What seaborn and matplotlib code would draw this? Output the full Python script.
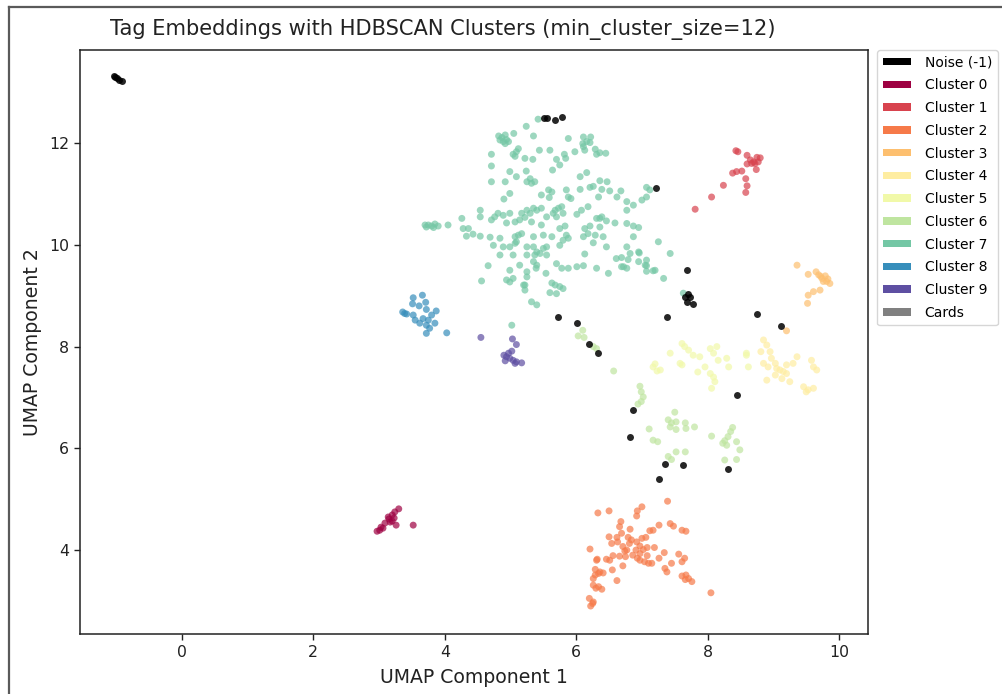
import numpy as np
import pandas as pd
import matplotlib
matplotlib.use("Agg")
import matplotlib.pyplot as plt
from matplotlib.lines import Line2D
from matplotlib.patches import Patch
import seaborn as sns

# ---- UMAP coordinates per HDBSCAN label ----
noise_x = [-1.04, -1.01, -0.98, -0.95, -0.91, 5.51, 5.56, 5.68, 5.78, 7.21, 7.69,
           7.66, 7.70, 7.73, 7.69, 7.78, 7.38, 8.75, 9.11, 5.73, 6.01, 6.20, 6.33,
           8.44, 6.86, 6.82, 7.35, 7.62, 8.31, 7.26]
noise_y = [13.32, 13.30, 13.28, 13.25, 13.22, 12.49, 12.49, 12.45, 12.51, 11.11, 9.50,
           8.98, 9.03, 8.97, 8.87, 8.84, 8.59, 8.64, 8.40, 8.59, 8.46, 8.06, 7.88,
           7.05, 6.75, 6.22, 5.69, 5.68, 5.60, 5.39]

c0_x = [2.97, 3.03, 3.09, 3.15, 3.20, 3.24, 3.30, 3.14, 3.20, 3.26, 3.01, 3.06, 3.17, 3.23, 3.52]
c0_y = [4.37, 4.45, 4.53, 4.61, 4.69, 4.75, 4.81, 4.65, 4.57, 4.49, 4.39, 4.43, 4.55, 4.63, 4.49]

c1_x = [8.43, 8.46, 8.60, 8.65, 8.70, 8.75, 8.80, 8.77, 8.60, 8.67, 8.72, 8.74, 8.52,
        8.44, 8.38, 8.58, 8.60, 8.58, 8.24, 8.06, 7.81]
c1_y = [11.85, 11.83, 11.76, 11.67, 11.63, 11.72, 11.71, 11.63, 11.59, 11.60, 11.60, 11.48,
        11.45, 11.44, 11.41, 11.30, 11.16, 11.03, 11.17, 10.94, 10.70]

c2_x = [7.39, 6.33, 6.50, 7.00, 6.93, 6.92, 6.68, 6.66, 6.82, 6.69, 6.50, 6.62, 6.63, 6.79,
        7.00, 7.06, 7.12, 7.17, 7.26, 7.43, 7.48, 7.61, 7.67, 6.54, 6.71, 6.81, 6.92, 6.97,
        7.02, 7.08, 6.91, 6.21, 6.74, 6.86, 6.66, 6.56, 6.46, 6.31, 6.75, 6.93, 6.97, 7.08,
        7.19, 7.34, 7.26, 7.56, 7.65, 7.61, 7.45, 7.04, 7.10, 7.15, 6.71, 6.55, 6.41, 6.29,
        6.29, 6.26, 6.34, 7.35, 7.38, 6.62, 7.61, 7.67, 7.71, 7.76, 7.66, 6.26, 6.34, 6.39,
        6.30, 8.05, 6.20, 6.26, 6.22, 6.25, 6.77, 6.97, 6.84, 6.51, 6.36, 6.32]
c2_y = [4.96, 4.73, 4.77, 4.85, 4.77, 4.67, 4.56, 4.46, 4.41, 4.33, 4.26, 4.25, 4.16, 4.25,
        4.23, 4.25, 4.38, 4.39, 4.49, 4.52, 4.47, 4.39, 4.37, 4.13, 4.07, 4.13, 4.16, 4.08,
        4.01, 4.05, 4.00, 4.02, 3.98, 3.90, 3.88, 3.89, 3.82, 3.80, 3.87, 3.84, 3.80, 3.89,
        4.05, 3.95, 3.84, 3.92, 3.84, 3.77, 3.74, 3.77, 3.74, 3.74, 3.69, 3.61, 3.55, 3.62,
        3.51, 3.44, 3.54, 3.64, 3.57, 3.40, 3.49, 3.51, 3.44, 3.38, 3.42, 3.31, 3.28, 3.23,
        3.25, 3.16, 3.05, 2.98, 2.90, 2.95, 4.00, 3.93, 4.20, 3.80, 3.57, 3.82]

c3_x = [9.36, 9.53, 9.65, 9.69, 9.74, 9.79, 9.81, 9.86, 9.76, 9.71, 9.61, 9.53, 9.52, 9.20,
        9.72, 9.83]
c3_y = [9.60, 9.42, 9.47, 9.41, 9.34, 9.39, 9.28, 9.24, 9.28, 9.11, 9.08, 9.01, 8.85, 8.31,
        9.38, 9.33]

c4_x = [8.85, 8.90, 8.95, 8.97, 8.85, 8.92, 9.05, 9.10, 9.15, 9.20, 9.03, 9.13, 8.90, 9.25,
        9.46, 9.53, 9.61, 9.50, 9.58, 9.61, 9.66, 9.30, 9.36, 9.20, 8.81, 9.03]
c4_y = [8.13, 8.03, 7.90, 7.77, 7.67, 7.60, 7.57, 7.54, 7.51, 7.47, 7.44, 7.37, 7.34, 7.31,
        7.21, 7.15, 7.18, 7.11, 7.73, 7.60, 7.54, 7.67, 7.80, 7.64, 7.90, 7.67]

c5_x = [7.61, 7.71, 7.78, 7.88, 8.04, 8.09, 8.16, 7.96, 8.04, 8.11, 8.29, 8.32, 7.58, 7.43,
        8.59, 8.62, 7.28, 7.17, 7.20, 7.23, 8.14, 8.09, 8.06, 7.61, 8.59, 7.85, 7.65]
c5_y = [8.06, 7.93, 7.83, 7.80, 7.96, 7.87, 7.73, 7.60, 7.47, 7.31, 7.77, 7.60, 7.67, 7.87,
        7.87, 7.60, 7.54, 7.60, 7.66, 7.52, 8.00, 7.40, 7.18, 7.64, 7.83, 7.50, 8.00]

c6_x = [6.10, 6.03, 6.12, 6.26, 6.31, 6.57, 6.97, 6.99, 7.02, 6.99, 6.94, 7.50, 7.40, 7.45,
        7.52, 7.66, 7.43, 7.52, 7.67, 7.80, 7.11, 7.17, 7.24, 7.40, 7.45, 7.52, 7.66, 8.06,
        8.38, 8.35, 8.31, 8.26, 8.29, 8.44, 8.49, 8.26, 8.44, 8.23]
c6_y = [8.32, 8.21, 8.18, 8.00, 7.96, 7.52, 7.22, 7.11, 7.01, 6.92, 6.87, 6.71, 6.56, 6.50,
        6.52, 6.50, 6.42, 6.37, 6.39, 6.42, 6.38, 6.16, 6.13, 5.84, 5.78, 5.93, 5.93, 6.24,
        6.41, 6.33, 6.23, 6.15, 6.06, 6.13, 5.97, 5.77, 5.78, 6.10]

c7_x = [5.42, 5.24, 4.82, 4.87, 4.92, 4.94, 4.84, 4.97, 4.92, 4.89, 5.05, 5.35, 5.88, 6.11,
        6.22, 6.16, 6.10, 6.21, 5.12, 5.09, 5.04, 5.07, 5.44, 5.60, 5.82, 5.84, 5.98, 6.11,
        6.13, 6.29, 6.31, 6.36, 6.45, 4.71, 5.22, 5.34, 5.70, 4.71, 4.99, 5.09, 5.24, 5.64,
        5.75, 6.16, 6.06, 4.71, 4.92, 5.25, 5.30, 5.32, 5.37, 5.58, 5.63, 5.85, 6.06, 6.21,
        6.26, 6.36, 6.47, 6.39, 6.51, 6.68, 7.07, 7.12, 4.99, 4.90, 5.47, 5.59, 5.88, 5.92,
        6.34, 6.62, 6.77, 6.87, 7.00, 7.07, 4.54, 4.81, 4.89, 4.99, 5.17, 5.25, 5.35, 5.30,
        5.40, 5.47, 5.68, 5.73, 5.78, 5.65, 5.80, 6.01, 6.08, 6.18, 6.39, 6.77, 3.70, 3.75,
        3.80, 3.85, 3.90, 3.72, 3.83, 4.05, 4.26, 4.54, 4.71, 4.76, 4.94, 5.07, 5.14, 5.22,
        5.32, 5.47, 5.55, 5.70, 5.83, 5.75, 6.13, 6.21, 6.31, 6.36, 6.36, 6.46, 6.59, 6.77,
        6.87, 6.95, 4.28, 4.36, 4.33, 4.43, 4.54, 4.69, 4.84, 5.12, 5.17, 5.07, 5.35, 5.50,
        5.63, 5.85, 5.88, 6.11, 6.18, 6.29, 6.41, 6.87, 7.25, 4.74, 4.89, 4.99, 5.07, 5.09,
        5.25, 5.35, 5.40, 5.50, 5.55, 5.75, 5.80, 6.26, 6.46, 6.77, 6.95, 6.82, 7.43, 4.84,
        5.04, 5.25, 5.37, 5.45, 5.55, 5.70, 6.13, 6.61, 6.69, 6.79, 6.95, 7.07, 5.35, 5.40,
        4.66, 4.99, 5.14, 5.25, 5.39, 5.54, 5.78, 5.88, 6.01, 6.11, 6.31, 6.49, 6.69, 6.77,
        7.07, 7.07, 7.20, 7.33, 4.56, 4.94, 4.99, 5.04, 5.25, 5.22, 5.63, 5.68, 5.75, 5.80,
        5.70, 5.60, 6.96, 7.05, 7.17, 6.72, 7.63, 5.32, 5.40, 5.02, 5.20, 5.22]
c7_y = [12.47, 12.33, 12.14, 12.11, 12.16, 12.07, 12.06, 12.03, 11.99, 12.03, 12.19, 12.14,
        12.09, 12.12, 12.12, 12.03, 11.99, 12.01, 11.89, 11.83, 11.78, 11.74, 11.86, 11.86,
        11.78, 11.70, 11.83, 11.93, 11.86, 11.88, 11.78, 11.81, 11.80, 11.78, 11.70, 11.68,
        11.68, 11.55, 11.44, 11.34, 11.45, 11.47, 11.57, 11.42, 11.34, 11.24, 11.24, 11.24,
        11.30, 11.21, 11.24, 11.08, 11.04, 11.08, 11.09, 11.13, 11.15, 11.26, 11.24, 11.09,
        11.06, 11.06, 11.13, 11.08, 11.01, 10.90, 10.98, 10.93, 10.94, 10.91, 10.94, 10.94,
        10.85, 10.78, 10.88, 10.94, 10.68, 10.62, 10.58, 10.62, 10.62, 10.68, 10.72, 10.62,
        10.68, 10.72, 10.68, 10.72, 10.75, 10.62, 10.62, 10.60, 10.68, 10.75, 10.55, 10.68,
        10.39, 10.39, 10.37, 10.41, 10.37, 10.35, 10.34, 10.39, 10.52, 10.55, 10.49, 10.55,
        10.43, 10.45, 10.49, 10.54, 10.45, 10.39, 10.55, 10.55, 10.37, 10.32, 10.32, 10.37,
        10.52, 10.52, 10.35, 10.47, 10.43, 10.42, 10.37, 10.34, 10.32, 10.32, 10.17, 10.21,
        10.17, 10.15, 10.13, 10.19, 10.22, 10.16, 10.16, 10.19, 10.16, 10.19, 10.13, 10.16,
        10.22, 10.19, 10.16, 10.16, 10.06, 9.99, 9.96, 9.96, 10.03, 10.06, 9.96, 9.96, 9.86,
        9.93, 9.96, 9.99, 10.09, 10.04, 9.96, 9.96, 9.86, 9.83, 9.83, 9.80, 9.80, 9.80, 9.80,
        9.83, 9.80, 9.63, 9.82, 9.73, 9.75, 9.71, 9.67, 9.70, 9.67, 9.60, 9.59, 9.50, 9.60,
        9.47, 9.54, 9.44, 9.54, 9.54, 9.57, 9.59, 9.54, 9.44, 9.57, 9.54, 9.59, 9.48, 9.50,
        9.34, 9.29, 9.31, 9.27, 9.34, 9.37, 9.21, 9.25, 9.21, 9.18, 9.14, 9.04, 9.06, 9.84,
        9.60, 9.49, 9.57, 9.05, 8.88, 8.82, 8.42, 9.21, 9.11]

c8_x = [3.52, 3.66, 3.51, 3.61, 3.71, 3.36, 3.42, 3.52, 3.72, 3.87, 3.80, 3.55, 3.67, 3.75,
        3.85, 3.62, 3.72, 3.77, 3.72, 4.03, 3.39]
c8_y = [8.96, 9.01, 8.84, 8.80, 8.87, 8.68, 8.64, 8.62, 8.73, 8.70, 8.62, 8.52, 8.55, 8.52,
        8.46, 8.46, 8.42, 8.36, 8.26, 8.27, 8.65]

c9_x = [4.55, 5.03, 5.09, 5.02, 4.90, 4.94, 4.99, 5.04, 5.09, 5.17, 4.92, 4.97, 5.07]
c9_y = [8.18, 8.15, 8.04, 7.91, 7.83, 7.80, 7.77, 7.73, 7.70, 7.68, 7.72, 7.87, 7.67]

cluster_x = [c0_x, c1_x, c2_x, c3_x, c4_x, c5_x, c6_x, c7_x, c8_x, c9_x]
cluster_y = [c0_y, c1_y, c2_y, c3_y, c4_y, c5_y, c6_y, c7_y, c8_y, c9_y]
cluster_names = [f"Cluster {i}" for i in range(10)]
legend_labels = ["Noise (-1)"] + cluster_names + ["Cards"]

# ---- build long-form table ----
frames = [pd.DataFrame({"x": xs, "y": ys, "label": name})
          for xs, ys, name in zip(cluster_x, cluster_y, cluster_names)]
clusters_df = pd.concat(frames, ignore_index=True)
noise_df = pd.DataFrame({"x": noise_x, "y": noise_y, "label": "Noise (-1)"})

spectral = plt.cm.Spectral(np.linspace(0, 1, len(cluster_names)))
palette = {name: spectral[i] for i, name in enumerate(cluster_names)}
palette["Noise (-1)"] = "black"
palette["Cards"] = "gray"

# ---- figure ----
plt.rcParams["font.family"] = ["DejaVu Sans"]
fig = plt.figure(figsize=(10.03, 6.94), dpi=100)
ax = fig.add_axes([80 / 1003, 1 - 634 / 694, 788 / 1003, 584 / 694])

sns.scatterplot(data=clusters_df, x="x", y="y", hue="label", palette=palette,
                s=25, alpha=0.7, linewidth=0, legend=False, ax=ax)
sns.scatterplot(data=noise_df, x="x", y="y", color="black",
                s=25, alpha=0.85, linewidth=0, legend=False, ax=ax)

ax.set_xlim(-1.55, 10.44)
ax.set_ylim(2.35, 13.83)
ax.set_xticks([0, 2, 4, 6, 8, 10])
ax.set_yticks([4, 6, 8, 10, 12])
ax.tick_params(labelsize=11.3, length=4.5, width=1, colors="#222222")
ax.set_xlabel("UMAP Component 1", fontsize=13.6, color="#222222", labelpad=6)
ax.set_ylabel("UMAP Component 2", fontsize=13.6, color="#222222", labelpad=5)
for sp in ax.spines.values():
    sp.set_linewidth(1.1)
    sp.set_color("#222222")

fig.text(443 / 1003, 1 - 30 / 694,
         "Tag Embeddings with HDBSCAN Clusters (min_cluster_size=12)",
         ha="center", va="center", fontsize=15.1, color="#222222")

handles = [Patch(facecolor=palette[lab], edgecolor="none") for lab in legend_labels]
ax.legend(handles, legend_labels, loc="upper left", bbox_to_anchor=(1.012, 1.0),
          borderaxespad=0, fontsize=10, frameon=True, handleheight=0.45,
          handlelength=2.0, handletextpad=1.0, labelspacing=0.63)

# outer frame of the output cell
fig.add_artist(Line2D([9.5 / 1003, 9.5 / 1003], [0, 1 - 6.5 / 694],
                      transform=fig.transFigure, color="#5a5a5a", lw=1.6))
fig.add_artist(Line2D([9.5 / 1003, 1], [1 - 6.5 / 694, 1 - 6.5 / 694],
                      transform=fig.transFigure, color="#5a5a5a", lw=1.6))

fig.savefig("out.png", dpi=100)
